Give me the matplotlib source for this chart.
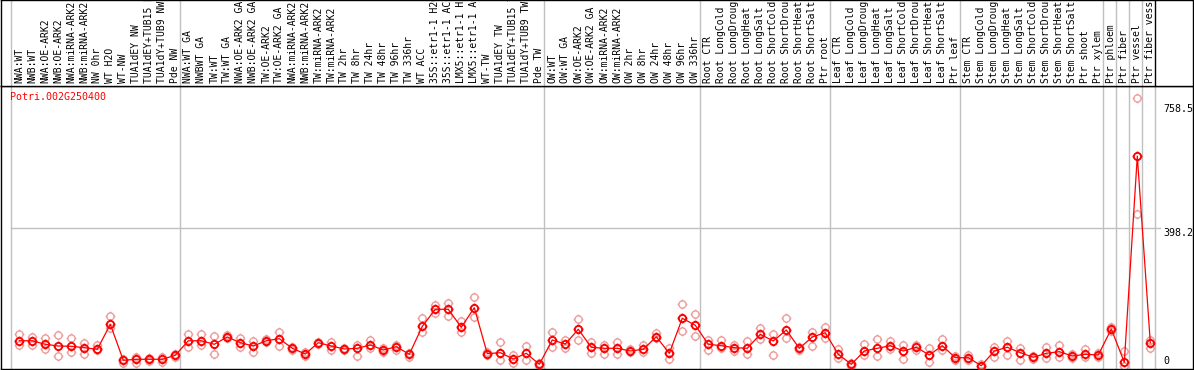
import matplotlib
matplotlib.use("Agg")
import matplotlib.pyplot as plt
from matplotlib.path import Path
import numpy as np

g1 = ["NWA:WT", "NWB:WT", "NWA:OE-ARK2", "NWB:OE-ARK2", "NWA:miRNA-ARK2", "NWB:miRNA-ARK2",
      "NW 0hr", "WT H2O", "WT-NW", "TUA1dEY NW", "TUA1dEY+TUB15 NW", "TUA1dY+TUB9 NW", "Pde NW"]
g2 = ["NWA:WT GA", "NWBWT GA", "TW:WT", "TW:WT GA", "NWA:OE-ARK2 GA", "NWB:OE-ARK2 GA",
      "TW:OE-ARK2", "TW:OE-ARK2 GA", "NWA:miRNA-ARK2", "NWB:miRNA-ARK2", "TW:miRNA-ARK2",
      "TW:miRNA-ARK2", "TW 2hr", "TW 8hr", "TW 24hr", "TW 48hr", "TW 96hr", "TW 336hr", "WT ACC",
      "35S::etr1-1 H2O", "35S::etr1-1 ACC", "LMX5::etr1-1 H2O", "LMX5::etr1-1 ACC", "WT-TW",
      "TUA1dEY TW", "TUA1dEY+TUB15 TW", "TUA1dY+TUB9 TW", "Pde TW"]
g3 = ["OW:WT", "OW:WT GA", "OW:OE-ARK2", "OW:OE-ARK2 GA", "OW:miRNA-ARK2", "OW:miRNA-ARK2",
      "OW 2hr", "OW 8hr", "OW 24hr", "OW 48hr", "OW 96hr", "OW 336hr"]
g4 = ["Root CTR", "Root LongCold", "Root LongDrought", "Root LongHeat", "Root LongSalt",
      "Root ShortCold", "Root ShortDrought", "Root ShortHeat", "Root ShortSalt", "Ptr root"]
g5 = ["Leaf CTR", "Leaf LongCold", "Leaf LongDrought", "Leaf LongHeat", "Leaf LongSalt",
      "Leaf ShortCold", "Leaf ShortDrought", "Leaf ShortHeat", "Leaf ShortSalt", "Ptr leaf"]
g6 = ["Stem CTR", "Stem LongCold", "Stem LongDrought", "Stem LongHeat", "Stem LongSalt",
      "Stem ShortCold", "Stem ShortDrought", "Stem ShortHeat", "Stem ShortSalt", "Ptr shoot", "Ptr xylem"]
g7 = ["Ptr phloem", "Ptr fiber", "Ptr vessel", "Ptr fiber vessel"]
groups = [g1, g2, g3, g4, g5, g6, ["Ptr phloem"], ["Ptr fiber"], ["Ptr vessel"], ["Ptr fiber vessel"]]
labels = g1 + g2 + g3 + g4 + g5 + g6 + g7

means = [73.2, 73.0, 62.8, 57.8, 57.0, 52.9, 48.3, 120.6, 16.5, 19.4, 19.4, 19.4, 30.9,
         73.0, 73.0, 62.8, 83.9, 67.4, 57.8, 73.0, 79.0, 51.2, 34.7, 67.4, 57.8, 49.2, 51.2,
         60.7, 46.3, 55.8, 33.8, 114.8, 164.0, 164.0, 111.9, 168.6, 35.6, 38.5, 20.2, 36.7, 4.9,
         75.2, 63.6, 106.1, 54.1, 51.2, 51.2, 43.4, 48.3, 84.7, 36.7, 138.0, 117.7,
         62.8, 58.7, 52.9, 51.2, 91.7, 72.3, 104.1, 51.2, 83.9, 96.3,
         33.8, 4.9, 43.4, 51.2, 58.7, 43.4, 54.1, 31.8, 58.7, 24.0,
         24.0, 0.9, 43.4, 54.1, 38.5, 25.2, 36.7, 41.4, 28.9, 33.8, 31.8,
         107.0, 10.7, 607.0, 67.4]
rep_hi = [92.5, 84.7, 80.1, 89.7, 81.8, 67.4, 60.7, 143.7, 19.4, 26.0, 23.0, 25.2, 35.6,
          92.5, 92.5, 85.9, 89.7, 80.1, 73.2, 77.2, 99.2, 55.8, 39.6, 70.3, 70.3, 52.9, 60.7,
          75.2, 51.2, 60.7, 36.7, 138.0, 176.4, 182.2, 131.0, 198.7, 39.6, 68.5, 31.8, 58.7, 8.7,
          97.5, 75.2, 135.9, 68.5, 60.7, 68.5, 48.3, 60.7, 94.6, 51.2, 178.4, 150.4,
          75.2, 75.2, 60.7, 72.3, 109.0, 92.5, 139.7, 55.8, 99.2, 111.9,
          49.2, 8.7, 63.6, 78.1, 73.2, 60.7, 60.7, 51.2, 77.2, 29.8,
          31.8, 7.2, 54.1, 73.2, 51.2, 29.8, 54.1, 60.7, 34.7, 48.3, 36.7,
          113.7, 43.4, 774.2, 75.2]
rep_lo = [60.7, 60.7, 49.2, 28.9, 41.4, 33.8, 46.3, 109.0, 9.5, 7.8, 14.5, 12.4, 26.0,
          54.1, 60.7, 33.8, 80.1, 55.8, 41.4, 69.4, 58.7, 46.3, 29.8, 63.6, 46.3, 45.4, 29.8,
          51.2, 39.6, 46.3, 26.9, 99.2, 152.4, 145.5, 97.5, 141.7, 31.8, 16.5, 7.8, 17.4, 0.9,
          54.1, 52.9, 75.2, 36.7, 33.8, 33.8, 39.6, 41.4, 80.1, 20.2, 101.2, 85.9,
          46.3, 51.2, 43.4, 33.8, 77.2, 31.8, 80.1, 46.3, 58.7, 81.8,
          22.3, 0.0, 31.8, 28.9, 48.3, 20.2, 46.3, 12.4, 46.3, 17.4,
          17.4, 0.0, 25.2, 31.8, 17.4, 20.2, 22.3, 26.9, 23.1, 26.9, 26.9,
          101.2, 0.0, 438.7, 52.9]
ytick_vals = [758.5, 398.2]
gene = "Potri.002G250400"

W, H = 1194, 370
fig = plt.figure(figsize=(W / 100, H / 100), dpi=100)
mono = "DejaVu Sans Mono"

# pixel geometry
ax_l, ax_r = 1, 1193
hdr_bot, ax_bot = 86, 369
x0_px, step_px = 19.3, 13.0          # first point centre, column step
zero_px, scale = 366.0, 0.3458      # y pixel of value 0, px per unit

xlim = ((ax_l - x0_px) / step_px, (ax_r - x0_px) / step_px)
ylim = (-(ax_bot - zero_px) / scale, (zero_px - hdr_bot) / scale)

ax = fig.add_axes([ax_l / W, (H - ax_bot) / H, (ax_r - ax_l) / W, (ax_bot - hdr_bot) / H])
hx = fig.add_axes([ax_l / W, (H - hdr_bot) / H, (ax_r - ax_l) / W, hdr_bot / H])
for a in (ax, hx):
    a.set_xlim(*xlim)
    a.set_xticks([]); a.set_yticks([])
    for s in a.spines.values():
        s.set_color("black"); s.set_linewidth(1.0)
ax.set_ylim(*ylim)
hx.set_ylim(0, hdr_bot)

n = len(labels)
xs = np.arange(n)
off = (x0_px - 10.7) / step_px

# group separators
bounds = [0]
for g in groups:
    bounds.append(bounds[-1] + len(g))
for i, b in enumerate(bounds):
    xb = b - off
    last = i == len(bounds) - 1
    ax.axvline(xb, color="#c0c0c0", lw=1.0, zorder=0)
    hx.axvline(xb, color="black" if last else "#c0c0c0", lw=1.0, zorder=0)

# horizontal grid line
ax.plot([-off, bounds[-1] - off + 0.4], [ytick_vals[1]] * 2, color="#c0c0c0", lw=1.0, zorder=0)

# header labels
for i, lab in enumerate(labels):
    hx.text(i, 3, lab, rotation=90, ha="center", va="bottom", family=mono, fontsize=7.0,
            color="black")

# marker path: circle with four small stubs
circ = Path.circle((0, 0), 1.0)
stubs = [Path([[0, 1.0], [0, 1.35]]), Path([[0, -1.0], [0, -1.35]]),
         Path([[1.0, 0], [1.35, 0]]), Path([[-1.0, 0], [-1.35, 0]])]
mk = Path.make_compound_path(circ, *stubs)

rep_col = "#ee9c9c"
rep_mid = means
for reps in (rep_hi, rep_lo, rep_mid):
    ax.plot(xs, reps, linestyle="none", marker=mk, markersize=7.0, markerfacecolor="none",
            markeredgecolor=rep_col, markeredgewidth=1.0, zorder=2)
ax.plot(xs, means, color="red", lw=0.9, zorder=3)
ax.plot(xs, means, linestyle="none", marker=mk, markersize=7.0, markerfacecolor="none",
        markeredgecolor="red", markeredgewidth=1.3, zorder=4)

# y labels on the right, inside the frame
tr = ax.get_yaxis_transform()
lx = (1163 - ax_l) / (ax_r - ax_l)
ax.text(lx, ytick_vals[0], f"{ytick_vals[0]}", transform=tr, ha="left", va="top",
        family=mono, fontsize=7.2, color="black")
ax.text(lx, ytick_vals[1], f"{ytick_vals[1]}", transform=tr, ha="left", va="top",
        family=mono, fontsize=7.2, color="black")
ax.text(lx, 0, "0", transform=tr, ha="left", va="bottom", family=mono, fontsize=7.2, color="black")

ax.text((10 - ax_l) / (ax_r - ax_l), (ax_bot - 97) / (ax_bot - hdr_bot), gene, transform=ax.transAxes,
        ha="left", va="center", family=mono, fontsize=7.2, color="red")

fig.savefig("out.png", dpi=100)
